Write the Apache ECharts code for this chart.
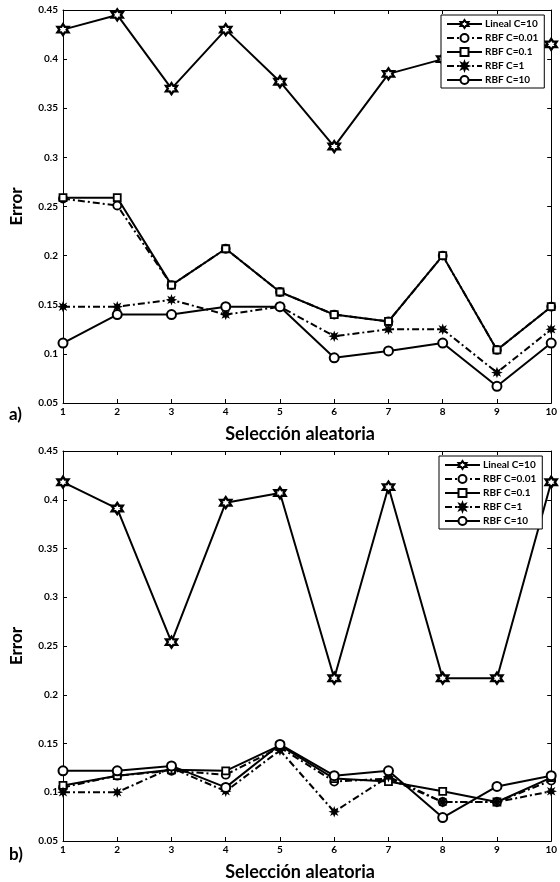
<!DOCTYPE html>
<html><head><meta charset="utf-8">
<script src="https://cdn.jsdelivr.net/npm/echarts@6/dist/echarts.min.js"></script>
<style>html,body{margin:0;padding:0;background:#fff}#c{width:560px;height:882px}</style>
</head><body><div id="c"></div>
<script>
const selections = [1, 2, 3, 4, 5, 6, 7, 8, 9, 10];
const seriesNames = ['Lineal C=10', 'RBF C=0.01', 'RBF C=0.1', 'RBF C=1', 'RBF C=10'];
const xTitle = 'Selección aleatoria';
const yTitle = 'Error';
const panelLabels = ['a)', 'b)'];

// Panel a)
const aLineal = [0.430, 0.445, 0.370, 0.430, 0.377, 0.311, 0.385, 0.400, 0.408, 0.415];
const aRbf001 = [0.258, 0.251, 0.170, 0.207, 0.163, 0.140, 0.133, 0.200, 0.104, 0.148];
const aRbf01  = [0.259, 0.259, 0.170, 0.207, 0.163, 0.140, 0.133, 0.200, 0.104, 0.148];
const aRbf1   = [0.148, 0.148, 0.155, 0.140, 0.148, 0.118, 0.125, 0.125, 0.081, 0.125];
const aRbf10  = [0.111, 0.140, 0.140, 0.148, 0.148, 0.096, 0.103, 0.111, 0.067, 0.111];

// Panel b)
const bLineal = [0.418, 0.391, 0.254, 0.397, 0.407, 0.217, 0.413, 0.217, 0.217, 0.418];
const bRbf001 = [0.105, 0.117, 0.122, 0.118, 0.146, 0.111, 0.114, 0.090, 0.090, 0.112];
const bRbf01  = [0.107, 0.117, 0.123, 0.122, 0.148, 0.114, 0.111, 0.101, 0.090, 0.115];
const bRbf1   = [0.100, 0.100, 0.125, 0.101, 0.143, 0.080, 0.116, 0.090, 0.090, 0.101];
const bRbf10  = [0.122, 0.122, 0.127, 0.105, 0.149, 0.117, 0.122, 0.074, 0.106, 0.117];

const FONT = 'Lato';
const hexagram = 'path://M0,-10L2.887,-5L8.66,-5L5.774,0L8.66,5L2.887,5L0,10L-2.887,5L-8.66,5L-5.774,0L-8.66,-5L-2.887,-5Z';
const asterisk = 'path://M0,-10L2,-4.5L7.07,-7.07L4.5,-2L10,0L4.5,2L7.07,7.07L2,4.5L0,10L-2,4.5L-7.07,7.07L-4.5,2L-10,0L-4.5,-2L-7.07,-7.07L-2,-4.5Z';
const dashDot = [7, 3, 2, 3];

const styles = [
  { symbol: hexagram, symbolSize: 11, fill: '#fff', bw: 2.4, line: 'solid' },
  { symbol: 'circle', symbolSize: 8, fill: '#fff', bw: 1.8, line: dashDot },
  { symbol: 'rect', symbolSize: 7, fill: '#fff', bw: 1.8, line: 'solid' },
  { symbol: asterisk, symbolSize: 8, fill: '#000', bw: 1.2, line: dashDot },
  { symbol: 'circle', symbolSize: 9, fill: '#fff', bw: 2, line: 'solid' }
];

const panels = [
  [aLineal, aRbf001, aRbf01, aRbf1, aRbf10],
  [bLineal, bRbf001, bRbf01, bRbf1, bRbf10]
];

const grids = [
  { left: 57, right: 3, top: 10, height: 393 },
  { left: 55, right: 3, top: 451, height: 394 }
];

const fmt = v => String(parseFloat(v.toFixed(2)));

const xAxes = [], yAxes = [], series = [];
grids.forEach((g, gi) => {
  xAxes.push({
    gridIndex: gi, type: 'value', min: 1, max: 10, interval: 1, position: 'bottom',
    axisLine: { show: true, onZero: false, lineStyle: { color: '#000', width: 1 } },
    axisTick: { show: true, inside: true, length: 4, lineStyle: { color: '#000' } },
    axisLabel: { color: '#000', fontFamily: FONT, fontWeight: 'bold', fontSize: 10, margin: 4 },
    splitLine: { show: false },
    name: xTitle, nameLocation: 'middle', nameGap: 22,
    nameTextStyle: { color: '#000', fontFamily: FONT, fontWeight: 'bold', fontSize: 18, padding: [0, 14, 0, 0] }
  });
  xAxes.push({
    gridIndex: gi, type: 'value', min: 1, max: 10, interval: 1, position: 'top',
    axisLine: { show: true, onZero: false, lineStyle: { color: '#000', width: 1 } },
    axisTick: { show: true, inside: true, length: 4, lineStyle: { color: '#000' } },
    axisLabel: { show: false }, splitLine: { show: false }
  });
  yAxes.push({
    gridIndex: gi, type: 'value', min: 0.05, max: 0.45, interval: 0.05, position: 'left',
    axisLine: { show: true, lineStyle: { color: '#000', width: 1 } },
    axisTick: { show: true, inside: true, length: 4, lineStyle: { color: '#000' } },
    axisLabel: { color: '#000', fontFamily: FONT, fontWeight: 'bold', fontSize: 10, margin: 5, formatter: fmt },
    splitLine: { show: false },
    name: yTitle, nameLocation: 'middle', nameGap: 38,
    nameTextStyle: { color: '#000', fontFamily: FONT, fontWeight: 'bold', fontSize: 17 }
  });
  yAxes.push({
    gridIndex: gi, type: 'value', min: 0.05, max: 0.45, interval: 0.05, position: 'right',
    axisLine: { show: true, lineStyle: { color: '#000', width: 1 } },
    axisTick: { show: true, inside: true, length: 4, lineStyle: { color: '#000' } },
    axisLabel: { show: false }, splitLine: { show: false }
  });
  panels[gi].forEach((vals, si) => {
    const st = styles[si];
    series.push({
      name: seriesNames[si], type: 'line',
      xAxisIndex: gi * 2, yAxisIndex: gi * 2,
      data: selections.map((x, i) => [x, vals[i]]),
      symbol: st.symbol, symbolSize: st.symbolSize, showAllSymbol: true,
      lineStyle: { color: '#000', width: 2, type: st.line },
      itemStyle: { color: st.fill, borderColor: '#000', borderWidth: st.bw },
      emphasis: { disabled: true },
      animation: false, z: 2 + si * 0.1
    });
  });
});

const legendBase = {
  orient: 'vertical', data: seriesNames,
  backgroundColor: '#fff', borderColor: '#000', borderWidth: 1,
  itemWidth: 35, itemHeight: 10, itemGap: 4,
  padding: [4, 6, 3, 5],
  textStyle: { color: '#000', fontFamily: FONT, fontWeight: 'bold', fontSize: 10, padding: [0, 0, 0, -2] },
  selectedMode: false
};

const option = {
  animation: false,
  backgroundColor: '#fff',
  grid: grids,
  xAxis: xAxes,
  yAxis: yAxes,
  legend: [
    Object.assign({}, legendBase, { left: 441, top: 15 }),
    Object.assign({}, legendBase, { left: 439, top: 456 })
  ],
  graphic: [
    { type: 'text', left: 9, top: 406, style: { text: panelLabels[0], fill: '#000', font: 'bold 17px ' + FONT } },
    { type: 'text', left: 9, top: 846, style: { text: panelLabels[1], fill: '#000', font: 'bold 17px ' + FONT } }
  ],
  series: series
};

const chart = echarts.init(document.getElementById('c'), null, { renderer: 'canvas' });
chart.setOption(option);
</script>
</body></html>
